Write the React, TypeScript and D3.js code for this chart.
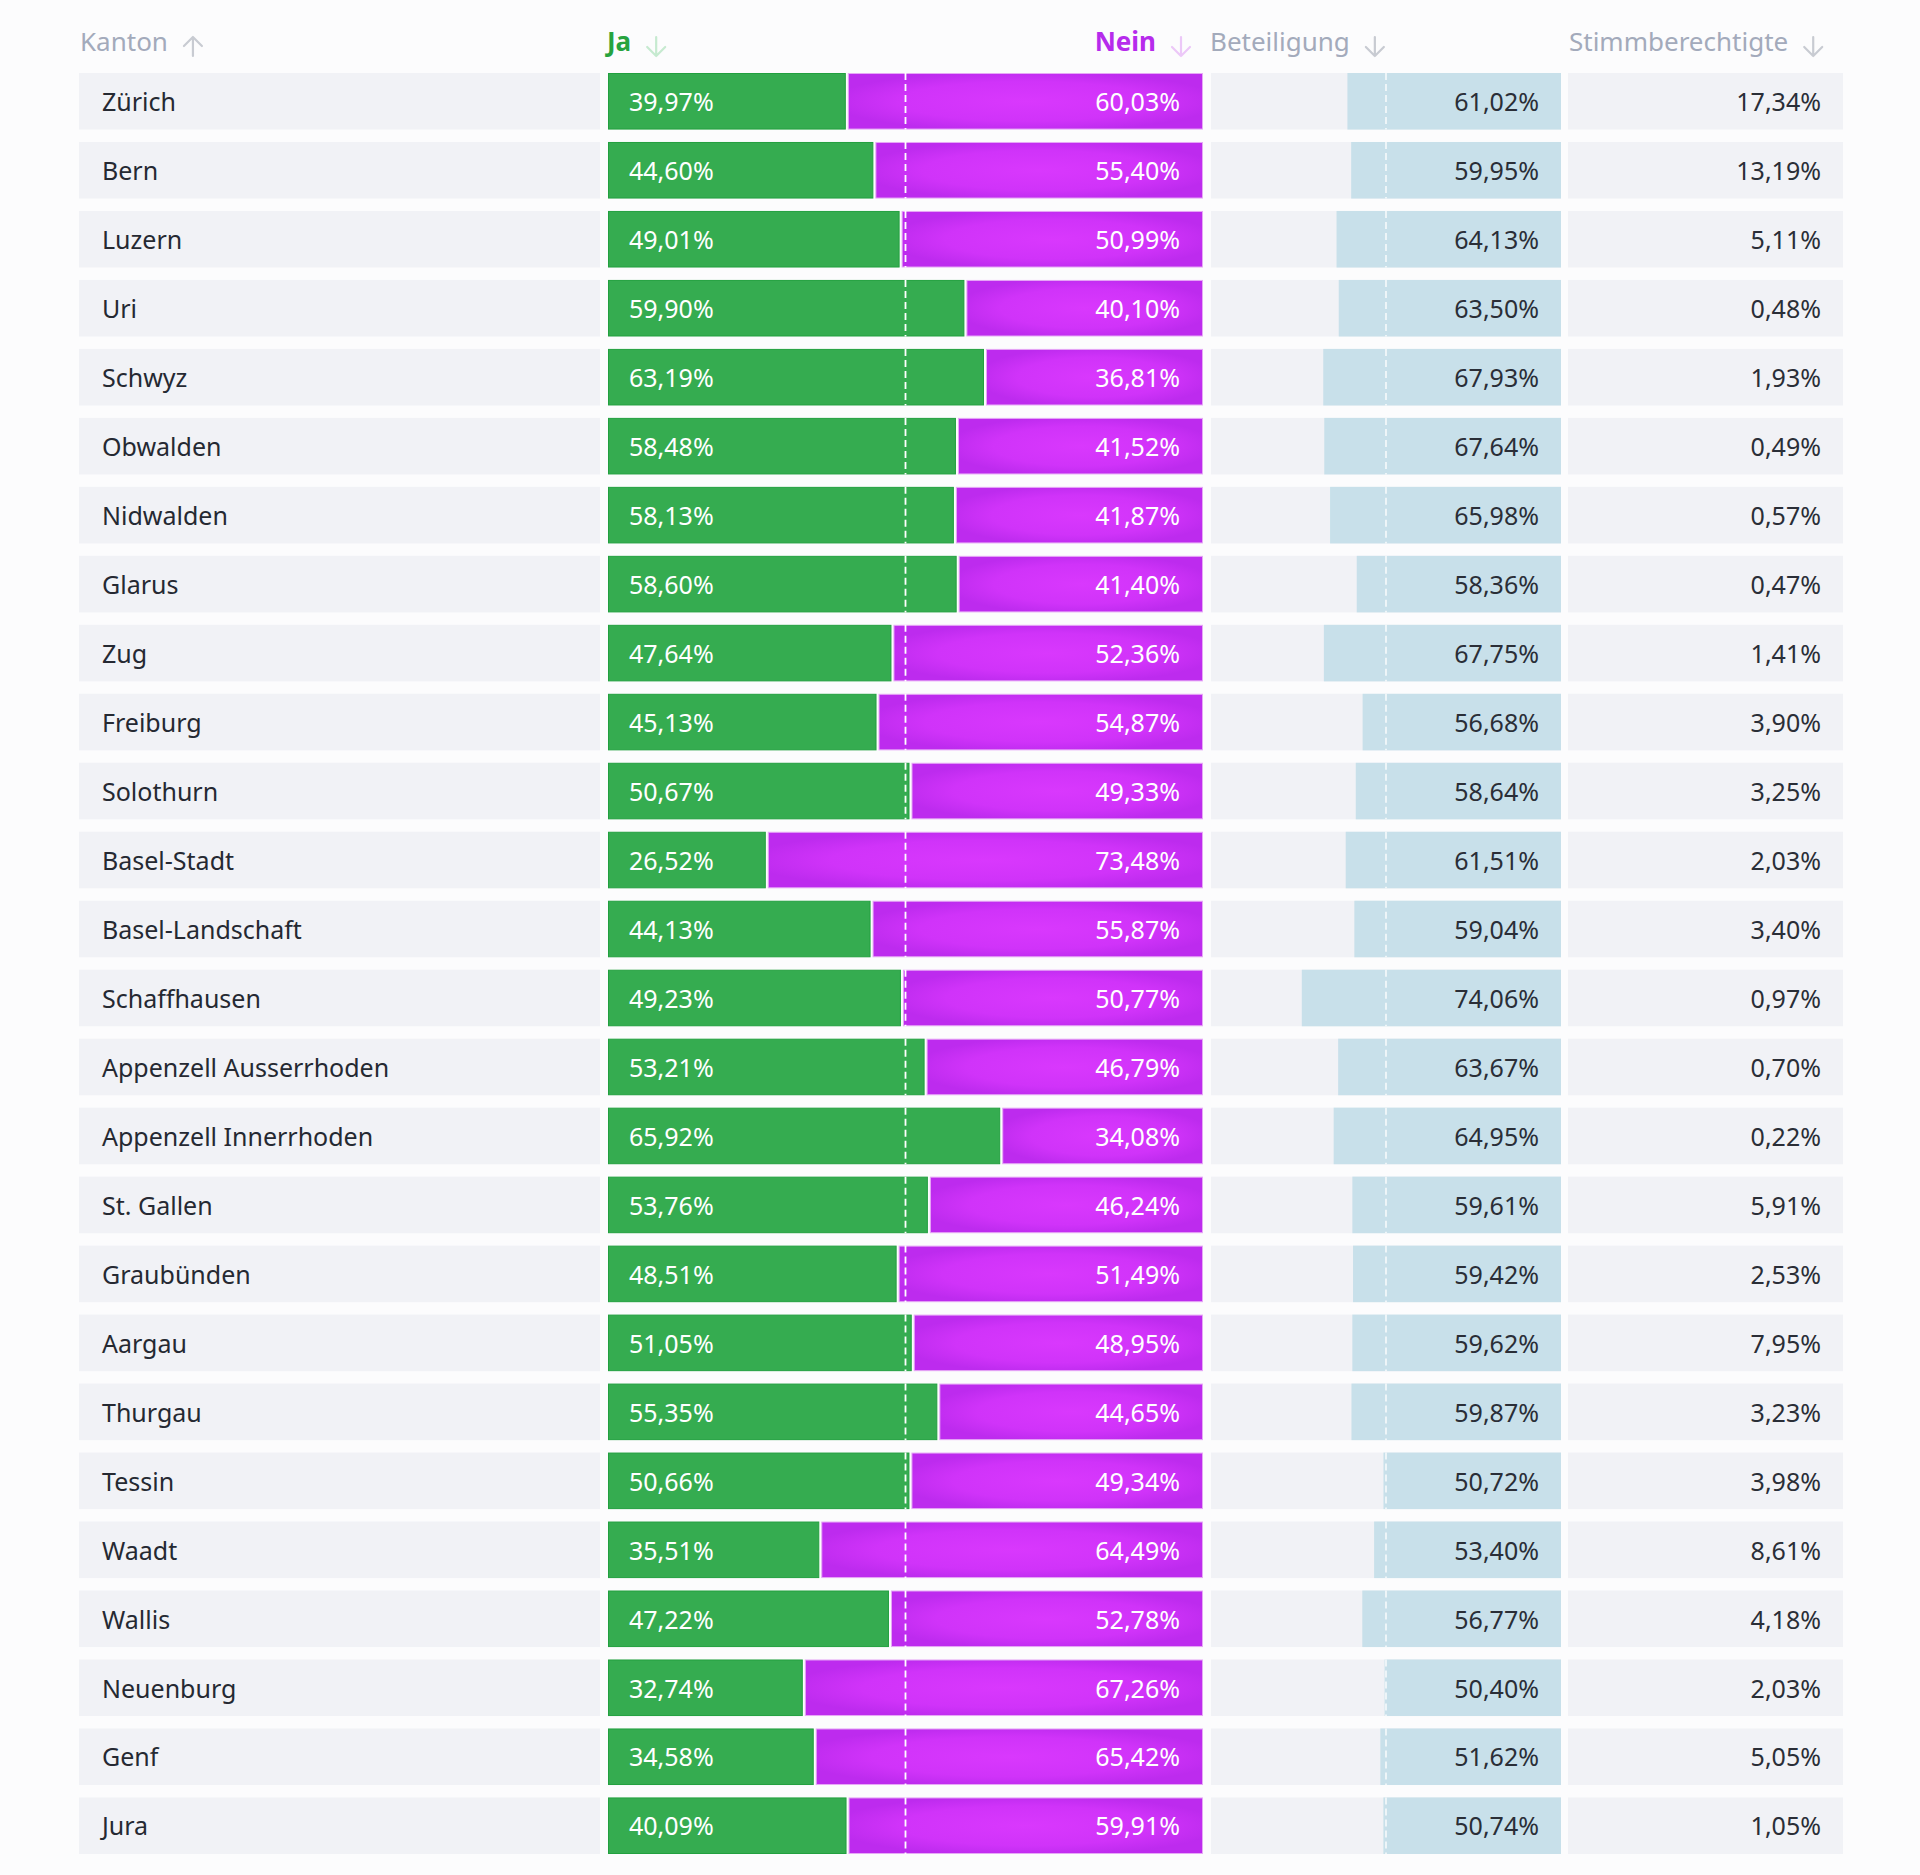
import React, { useRef, useEffect } from 'react';
import * as d3 from 'd3';

const kantone = [
    'Zürich', 'Bern', 'Luzern', 'Uri', 'Schwyz', 'Obwalden', 'Nidwalden', 'Glarus', 'Zug',
    'Freiburg', 'Solothurn', 'Basel-Stadt', 'Basel-Landschaft', 'Schaffhausen',
    'Appenzell Ausserrhoden', 'Appenzell Innerrhoden', 'St. Gallen', 'Graubünden', 'Aargau',
    'Thurgau', 'Tessin', 'Waadt', 'Wallis', 'Neuenburg', 'Genf', 'Jura',
];
const jaAnteil = [
    39.97, 44.6, 49.01, 59.9, 63.19, 58.48, 58.13, 58.6, 47.64, 45.13, 50.67, 26.52, 44.13,
    49.23, 53.21, 65.92, 53.76, 48.51, 51.05, 55.35, 50.66, 35.51, 47.22, 32.74, 34.58, 40.09,
];
const neinAnteil = [
    60.03, 55.4, 50.99, 40.1, 36.81, 41.52, 41.87, 41.4, 52.36, 54.87, 49.33, 73.48, 55.87,
    50.77, 46.79, 34.08, 46.24, 51.49, 48.95, 44.65, 49.34, 64.49, 52.78, 67.26, 65.42, 59.91,
];
const beteiligung = [
    61.02, 59.95, 64.13, 63.5, 67.93, 67.64, 65.98, 58.36, 67.75, 56.68, 58.64, 61.51, 59.04,
    74.06, 63.67, 64.95, 59.61, 59.42, 59.62, 59.87, 50.72, 53.4, 56.77, 50.4, 51.62, 50.74,
];
const stimmberechtigte = [
    17.34, 13.19, 5.11, 0.48, 1.93, 0.49, 0.57, 0.47, 1.41, 3.9, 3.25, 2.03, 3.4, 0.97, 0.7,
    0.22, 5.91, 2.53, 7.95, 3.23, 3.98, 8.61, 4.18, 2.03, 5.05, 1.05,
];
const spalten = ['Kanton', 'Ja', 'Nein', 'Beteiligung', 'Stimmberechtigte'];

export default function App() {
    const svgRef = useRef<SVGSVGElement | null>(null);

    useEffect(() => {
        document.body.style.margin = '0';
        const width = 1920;
        const height = 1875;
        const font = "'Noto Sans', 'Open Sans', sans-serif";

        d3.select(svgRef.current).selectAll('*').remove();

        const svg = d3
            .select(svgRef.current)
            .attr('width', width)
            .attr('height', height)
            .style('display', 'block')
            .style('background', '#fcfcfd');

        // column extents
        const colKanton = [79, 600];
        const colVote = [608, 1203];
        const colTurn = [1211, 1561];
        const colStimm = [1568, 1843];

        const y = d3
            .scaleBand()
            .domain(kantone)
            .range([73, 1854])
            .paddingInner(0.18)
            .paddingOuter(0);

        const xVote = d3.scaleLinear().domain([0, 100]).range(colVote);
        const xTurn = d3.scaleLinear().domain([0, 100]).range([colTurn[1], colTurn[0]]);

        const locale = d3.formatLocale({ decimal: ',', thousands: '.', grouping: [3], currency: ['', ''] });
        const fmt = (v: number) => locale.format('.2f')(v) + '%';

        const grad = svg
            .append('defs')
            .append('radialGradient')
            .attr('id', 'neinGrad')
            .attr('cx', 0.5)
            .attr('cy', 0.5)
            .attr('r', 0.55);
        grad.append('stop').attr('offset', '0%').attr('stop-color', '#d938fd');
        grad.append('stop').attr('offset', '65%').attr('stop-color', '#d033f9');
        grad.append('stop').attr('offset', '100%').attr('stop-color', '#bd2bee');

        // header
        const headerY = 51;
        const headers = [
            { label: spalten[0], x: 80, anchor: 'start', color: '#a3aabb', weight: 400, arrow: '#c8cbd2', up: true },
            { label: spalten[1], x: 607, anchor: 'start', color: '#27a33e', weight: 700, arrow: '#c6ead0', up: false },
            { label: spalten[2], x: 1156, anchor: 'end', color: '#b62bec', weight: 700, arrow: '#ecc8f8', up: false },
            { label: spalten[3], x: 1210, anchor: 'start', color: '#a3aabb', weight: 400, arrow: '#c8cbd2', up: false },
            { label: spalten[4], x: 1569, anchor: 'start', color: '#a3aabb', weight: 400, arrow: '#c8cbd2', up: false },
        ];

        headers.forEach((h) => {
            const t = svg
                .append('text')
                .attr('x', h.x)
                .attr('y', headerY)
                .attr('text-anchor', h.anchor)
                .attr('font-family', font)
                .attr('font-size', 26)
                .attr('font-weight', h.weight)
                .attr('fill', h.color)
                .text(h.label);
            const len = (t.node() as SVGTextElement).getComputedTextLength();
            const end = h.anchor === 'end' ? h.x : h.x + len;
            const cx = end + 25;
            const top = 37;
            const bottom = 56;
            const path = h.up
                ? `M${cx},${bottom}L${cx},${top}M${cx - 9},${top + 9}L${cx},${top}L${cx + 9},${top + 9}`
                : `M${cx},${top}L${cx},${bottom}M${cx - 9},${bottom - 9}L${cx},${bottom}L${cx + 9},${bottom - 9}`;
            svg.append('path')
                .attr('d', path)
                .attr('fill', 'none')
                .attr('stroke', h.arrow)
                .attr('stroke-width', 2.2)
                .attr('stroke-linecap', 'round')
                .attr('stroke-linejoin', 'round');
        });

        kantone.forEach((k, i) => {
            const y0 = y(k)!;
            const h = y.bandwidth();
            const cy = y0 + h / 2 + 1;
            const ja = jaAnteil[i];
            const nein = neinAnteil[i];

            // Kanton
            svg.append('rect')
                .attr('x', colKanton[0])
                .attr('y', y0)
                .attr('width', colKanton[1] - colKanton[0])
                .attr('height', h)
                .attr('fill', '#f1f2f6');
            svg.append('text')
                .attr('x', colKanton[0] + 23)
                .attr('y', cy)
                .attr('dy', '0.35em')
                .attr('font-family', font)
                .attr('font-size', 25)
                .attr('fill', '#252932')
                .text(k);

            // Ja / Nein
            svg.append('rect')
                .attr('x', xVote(0) + 0.5)
                .attr('y', y0 + 0.5)
                .attr('width', xVote(ja) - xVote(0) - 1)
                .attr('height', h - 1)
                .attr('fill', '#35ac50')
                .attr('stroke', '#22a03f')
                .attr('stroke-width', 1);
            svg.append('rect')
                .attr('x', xVote(100 - nein) + 2.5)
                .attr('y', y0 + 0.5)
                .attr('width', xVote(100) - xVote(100 - nein) - 3)
                .attr('height', h - 1)
                .attr('fill', 'url(#neinGrad)')
                .attr('stroke', '#e6a8f6')
                .attr('stroke-width', 1);
            svg.append('line')
                .attr('x1', xVote(50))
                .attr('x2', xVote(50))
                .attr('y1', y0)
                .attr('y2', y0 + h)
                .attr('stroke', '#ffffff')
                .attr('stroke-width', 1.8)
                .attr('stroke-dasharray', '7 4');
            svg.append('text')
                .attr('x', xVote(0) + 21)
                .attr('y', cy)
                .attr('dy', '0.35em')
                .attr('font-family', font)
                .attr('font-size', 25)
                .attr('fill', '#ffffff')
                .text(fmt(ja));
            svg.append('text')
                .attr('x', xVote(100) - 23)
                .attr('y', cy)
                .attr('dy', '0.35em')
                .attr('text-anchor', 'end')
                .attr('font-family', font)
                .attr('font-size', 25)
                .attr('fill', '#ffffff')
                .text(fmt(nein));

            // Beteiligung
            svg.append('rect')
                .attr('x', colTurn[0])
                .attr('y', y0)
                .attr('width', colTurn[1] - colTurn[0])
                .attr('height', h)
                .attr('fill', '#f1f2f6');
            svg.append('rect')
                .attr('x', xTurn(beteiligung[i]))
                .attr('y', y0)
                .attr('width', xTurn(0) - xTurn(beteiligung[i]))
                .attr('height', h)
                .attr('fill', '#c8e0ea');
            svg.append('line')
                .attr('x1', xTurn(50))
                .attr('x2', xTurn(50))
                .attr('y1', y0)
                .attr('y2', y0 + h)
                .attr('stroke', '#ffffff')
                .attr('stroke-opacity', 0.85)
                .attr('stroke-width', 1.6)
                .attr('stroke-dasharray', '7 4');
            svg.append('text')
                .attr('x', colTurn[1] - 22)
                .attr('y', cy)
                .attr('dy', '0.35em')
                .attr('text-anchor', 'end')
                .attr('font-family', font)
                .attr('font-size', 25)
                .attr('fill', '#2a2e37')
                .text(fmt(beteiligung[i]));

            // Stimmberechtigte
            svg.append('rect')
                .attr('x', colStimm[0])
                .attr('y', y0)
                .attr('width', colStimm[1] - colStimm[0])
                .attr('height', h)
                .attr('fill', '#f1f2f6');
            svg.append('text')
                .attr('x', colStimm[1] - 22)
                .attr('y', cy)
                .attr('dy', '0.35em')
                .attr('text-anchor', 'end')
                .attr('font-family', font)
                .attr('font-size', 25)
                .attr('fill', '#2a2e37')
                .text(fmt(stimmberechtigte[i]));
        });
    }, []);

    return <svg ref={svgRef}></svg>;
}
